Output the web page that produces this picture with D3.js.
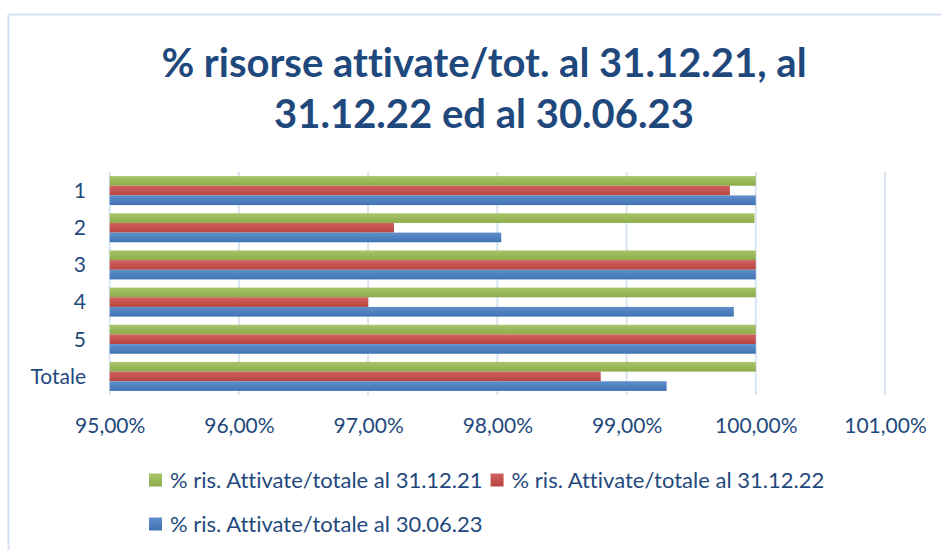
<!DOCTYPE html>
<html><head><meta charset="utf-8">
<script src="https://cdn.jsdelivr.net/npm/d3@7"></script>
<style>body{margin:0;background:#fff}svg{display:block}text{font-variant-ligatures:none;font-feature-settings:"liga" 0}</style>
</head><body>
<svg id="c" width="941" height="550"></svg>
<script>
const categories = ["1","2","3","4","5","Totale"];
const seriesNames = ["% ris. Attivate/totale al 31.12.21","% ris. Attivate/totale al 31.12.22","% ris. Attivate/totale al 30.06.23"];
const s2021 = [100.00, 99.99, 100.00, 100.00, 100.00, 100.00];
const s2022 = [99.80, 97.20, 100.00, 97.00, 100.00, 98.80];
const s2023 = [100.00, 98.03, 100.00, 99.83, 100.00, 99.31];
const xTicks = [95,96,97,98,99,100,101];
const titleLines = ["% risorse attivate/tot. al 31.12.21, al","31.12.22 ed al 30.06.23"];

const series = [s2021, s2022, s2023];
const colors = [["#a9c46c","#8cac48"],["#cf625f","#b9443f"],["#5f8fca","#3f73b3"]];
const textColor = "#1f497d";
const font = "Lato, 'Open Sans', sans-serif";

const svg = d3.select("#c");
const defs = svg.append("defs");
colors.forEach((c,i)=>{
  const g = defs.append("linearGradient").attr("id","g"+i).attr("x1",0).attr("x2",0).attr("y1",0).attr("y2",1);
  g.append("stop").attr("offset","0%").attr("stop-color",c[0]);
  g.append("stop").attr("offset","100%").attr("stop-color",c[1]);
});

svg.append("rect").attr("x",8.5).attr("y",14.5).attr("width",1000).attr("height",600)
  .attr("fill","none").attr("stroke","#d6e1f1").attr("stroke-width",2);

// title
svg.append("g").selectAll("text").data(titleLines).join("text")
  .attr("x",484).attr("y",(d,i)=>77+i*51).attr("text-anchor","middle")
  .attr("font-family",font).attr("font-weight","bold").attr("font-size",40)
  .attr("fill",textColor).text(d=>d);

const x = d3.scaleLinear().domain([95,101]).range([109.7,885]);
const y = d3.scaleBand().domain(categories).range([172,395]).paddingInner(0.22).paddingOuter(0.11);
const ySub = d3.scaleBand().domain([0,1,2]).range([0,y.bandwidth()]);

// gridlines
svg.append("g").selectAll("line").data(xTicks).join("line")
  .attr("x1",d=>x(d)).attr("x2",d=>x(d)).attr("y1",172).attr("y2",395)
  .attr("stroke","#d9e4f3").attr("stroke-width",2);

// bars
const rows = categories.map((c,i)=>({cat:c, vals: series.map(s=>s[i])}));
const gRows = svg.append("g").selectAll("g").data(rows).join("g")
  .attr("transform",d=>`translate(0,${y(d.cat)})`);
gRows.selectAll("rect").data(d=>d.vals.map((v,k)=>({v,k}))).join("rect")
  .attr("x",x(95)).attr("y",d=>ySub(d.k)).attr("height",ySub.bandwidth())
  .attr("width",d=>x(d.v)-x(95)).attr("fill",d=>`url(#g${d.k})`);

// x axis
const xAxis = d3.axisBottom(x).tickValues(xTicks).tickSize(0)
  .tickFormat(d=>d3.format(".2f")(d).replace(".",",")+"%");
const gx = svg.append("g").attr("transform","translate(0,395)").call(xAxis);
gx.select(".domain").remove();
gx.selectAll("text").attr("font-family",font).attr("font-size",21).attr("fill",textColor).attr("dy",0).attr("y",38);

// y axis
const yAxis = d3.axisLeft(y).tickSize(0);
const gy = svg.append("g").attr("transform","translate(86,0)").call(yAxis);
gy.select(".domain").remove();
gy.selectAll("text").attr("font-family",font).attr("font-size",21).attr("fill",textColor).attr("x",0).attr("dy","0.35em");

// legend
const leg = svg.append("g").attr("font-family",font).attr("font-size",22).attr("fill",textColor);
const pos = [[149,480],[null,480],[149,524]];
let curX = 149;
seriesNames.forEach((n,i)=>{
  let px = pos[i][0]===null ? curX : pos[i][0];
  const py = pos[i][1];
  leg.append("rect").attr("x",px).attr("y",py-6.5).attr("width",13).attr("height",13).attr("fill",`url(#g${i})`);
  const t = leg.append("text").attr("x",px+21).attr("y",py).attr("dy","0.35em").text(n);
  curX = px + 21 + t.node().getComputedTextLength() + 8;
});
</script>
</body></html>
